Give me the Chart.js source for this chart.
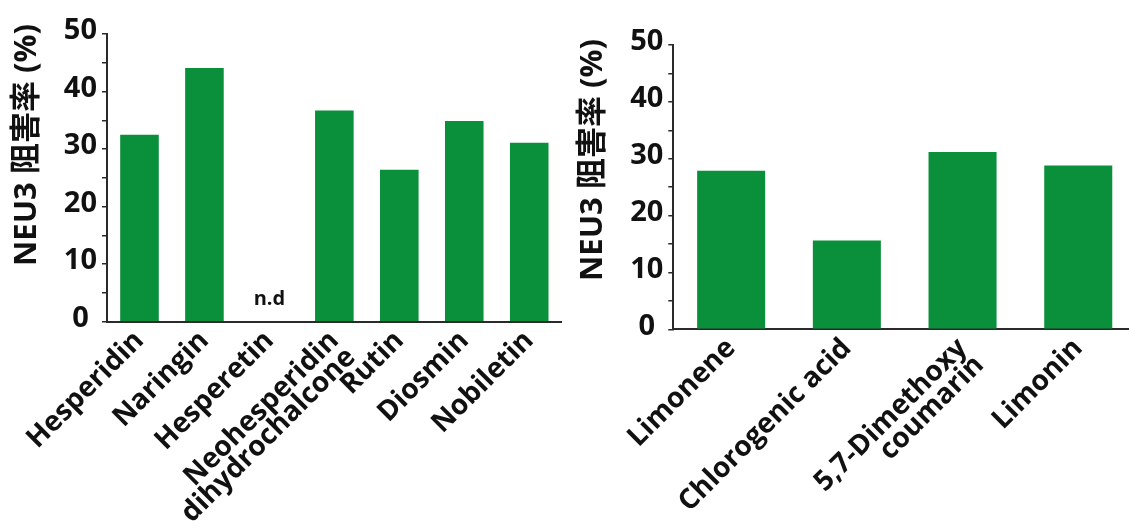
<!DOCTYPE html>
<html>
<head>
<meta charset="utf-8">
<script src="https://cdn.jsdelivr.net/npm/chart.js@4/dist/chart.umd.min.js"></script>
<style>
  html, body { margin: 0; padding: 0; background: #fff; overflow: hidden; }
  #wrap { position: relative; width: 1129px; height: 529px; overflow: hidden; background: #fff; }
  .panel { position: absolute; top: 0; }
  #panelA { left: 0; }
  #panelB { left: 560px; }
</style>
</head>
<body>
<div id="wrap">
  <div class="panel" id="panelA"><canvas id="chartA" width="570" height="529"></canvas></div>
  <div class="panel" id="panelB"><canvas id="chartB" width="580" height="529"></canvas></div>
</div>
<script>
// Citrus flavonoids: NEU3 inhibition (%); Hesperetin was not detected
const flavonoidNames = ['Hesperidin', 'Naringin', 'Hesperetin', ['Neohesperidin', 'dihydrochalcone'], 'Rutin', 'Diosmin', 'Nobiletin'];
const flavonoidInhibition = [32.5, 44.1, null, 36.7, 26.4, 34.9, 31.1];

// Other citrus components: NEU3 inhibition (%)
const otherNames = ['Limonene', 'Chlorogenic acid', ['5,7-Dimethoxy', 'coumarin'], 'Limonin'];
const otherInhibition = [27.9, 15.6, 31.2, 28.8];

// Y axis: labelled every 10, minor marks every 5
const yLabelledTicks = [0, 10, 20, 30, 40, 50];
const yMin = 0;
const yMax = 50;
const yMinorStep = 5;

const yAxisTitle = 'NEU3 阻害率 (%)';
const notDetectedText = 'n.d';

const FONT = '"Open Sans", "Noto Sans CJK JP", sans-serif';
const BAR_GREEN = '#0a8f3b';
const INK = '#111111';
const AXIS = '#2a2a2a';

// Draws the rotated y-axis title and an "n.d" note over categories without data
const notesPlugin = {
  id: 'notes',
  afterDraw(chart, args, opts) {
    const ctx = chart.ctx;
    ctx.save();
    ctx.fillStyle = INK;
    ctx.font = 'bold ' + opts.titleSize + 'px ' + FONT;
    ctx.translate(opts.titleX, opts.titleY);
    ctx.rotate(-Math.PI / 2);
    ctx.textAlign = 'center';
    ctx.textBaseline = 'middle';
    ctx.fillText(yAxisTitle, 0, 0);
    ctx.restore();

    const values = chart.data.datasets[0].data;
    const xs = chart.scales.x, ys = chart.scales.y;
    ctx.save();
    ctx.fillStyle = INK;
    ctx.font = 'bold 20px ' + FONT;
    ctx.textAlign = 'center';
    ctx.textBaseline = 'alphabetic';
    values.forEach((v, i) => {
      if (v === null) {
        ctx.fillText(notDetectedText, xs.getPixelForValue(i), ys.getPixelForValue(0) - 17);
      }
    });
    ctx.restore();
  }
};

function makeChart(canvasId, labels, values, cfg) {
  return new Chart(document.getElementById(canvasId), {
    type: 'bar',
    data: {
      labels: labels,
      datasets: [{
        data: values,
        backgroundColor: BAR_GREEN,
        borderWidth: 0,
        categoryPercentage: 1,
        barPercentage: cfg.barPercentage
      }]
    },
    plugins: [notesPlugin],
    options: {
      responsive: false,
      animation: false,
      events: [],
      layout: { padding: { top: cfg.top, right: cfg.right, bottom: 0, left: 0 } },
      plugins: {
        legend: { display: false },
        tooltip: { enabled: false },
        notes: { titleX: cfg.titleX, titleY: cfg.titleY, titleSize: 31 }
      },
      scales: {
        x: {
          offset: true,
          grid: { display: false, drawTicks: false },
          border: { display: true, color: AXIS, width: 2 },
          ticks: {
            autoSkip: false,
            maxRotation: 45,
            minRotation: 45,
            padding: 6,
            color: INK,
            font: { family: FONT, size: 28, weight: 'bold', lineHeight: 0.85 }
          },
          afterFit(scale) { scale.height = cfg.xHeight; }
        },
        y: {
          min: yMin,
          max: yMax,
          grid: { drawOnChartArea: false, drawTicks: true, tickLength: 5, color: AXIS, lineWidth: 1.5 },
          border: { display: true, color: AXIS, width: 2 },
          ticks: {
            stepSize: yMinorStep,
            autoSkip: false,
            padding: 5,
            crossAlign: 'center',
            labelOffset: -3,
            color: INK,
            font: { family: FONT, size: 29, weight: 'bold' },
            callback: (v) => yLabelledTicks.includes(v) ? String(v) : ''
          },
          afterFit(scale) { scale.width = cfg.yWidth; }
        }
      }
    }
  });
}

makeChart('chartA', flavonoidNames, flavonoidInhibition, {
  barPercentage: 0.594, top: 34, right: 8.3, xHeight: 207.3, yWidth: 107,
  titleX: 27, titleY: 145
});

makeChart('chartB', otherNames, otherInhibition, {
  barPercentage: 0.588, top: 45, right: 3.9, xHeight: 199.7, yWidth: 113.3,
  titleX: 33, titleY: 160
});
</script>
</body>
</html>
